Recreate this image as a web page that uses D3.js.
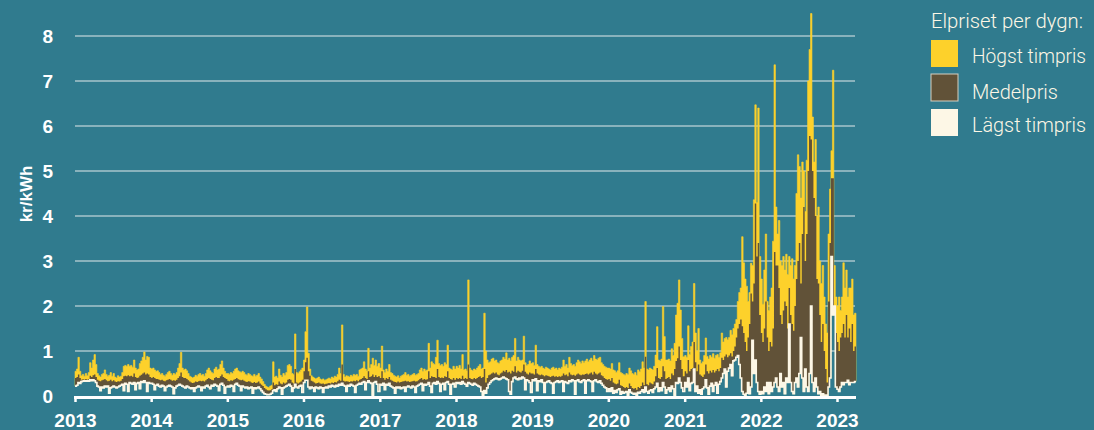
<!DOCTYPE html>
<html>
<head>
<meta charset="utf-8">
<script src="https://cdn.jsdelivr.net/npm/d3@7"></script>
<style>
  html, body { margin: 0; padding: 0; background: #307b8e; }
  svg { display: block; }
</style>
</head>
<body>
<div id="chart"></div>
<script>
const [teal, yellow, brown, cream, gridColor] =
      ["#307b8e", "#fdd12b", "#615238", "#fdf7e6", "#a7c4cb"];

const startYear = 2013
const weeksPerYear = 52

// Högst timpris, one value per week (kr/kWh)
const hogst = [
  0.55,0.60,0.86,0.55,0.45,0.48,0.44,0.50,0.45,0.52,0.74,0.62,0.80,0.92,0.70,0.50,0.45,0.42,0.48,0.50,0.58,0.48,0.44,0.46,0.52,0.44,0.50,0.42,0.40,0.45,0.42,0.44,0.52,0.66,0.68,0.66,0.70,0.66,0.68,0.64,0.80,0.62,0.58,0.60,0.72,0.78,0.86,0.98,0.80,0.88,0.86,0.62, // 2013
  0.60,0.62,0.58,0.55,0.56,0.52,0.48,0.50,0.46,0.44,0.48,0.52,0.55,0.50,0.46,0.50,0.48,0.52,0.62,0.72,0.97,0.62,0.58,0.60,0.56,0.50,0.44,0.42,0.40,0.42,0.46,0.44,0.48,0.50,0.46,0.48,0.44,0.50,0.58,0.62,0.56,0.52,0.50,0.60,0.64,0.58,0.60,0.70,0.78,0.62,0.55,0.50, // 2014
  0.50,0.48,0.52,0.50,0.55,0.60,0.62,0.56,0.54,0.52,0.55,0.52,0.48,0.46,0.50,0.48,0.45,0.44,0.48,0.44,0.46,0.50,0.42,0.38,0.32,0.26,0.22,0.20,0.19,0.22,0.24,0.76,0.42,0.44,0.40,0.60,0.46,0.42,0.50,0.46,0.52,0.68,0.70,0.66,0.50,0.48,1.38,0.52,0.50,0.54,0.58,0.62, // 2015
  0.80,1.43,1.98,0.95,0.60,0.45,0.42,0.40,0.38,0.40,0.42,0.38,0.36,0.38,0.35,0.36,0.38,0.40,0.38,0.42,0.40,0.44,0.42,0.48,0.62,0.50,1.58,0.48,0.42,0.45,0.44,0.42,0.46,0.44,0.48,0.46,0.48,0.44,0.58,0.60,0.62,0.76,0.60,0.56,1.06,0.62,0.70,0.84,0.68,0.80,0.66,0.72, // 2016
  0.62,1.11,0.58,0.52,0.60,0.55,0.70,0.52,0.50,0.46,0.44,0.42,0.45,0.40,0.44,0.46,0.48,0.52,0.46,0.48,0.44,0.46,0.48,0.50,0.46,0.48,0.50,0.58,0.62,0.55,0.60,0.56,0.58,1.17,0.62,0.76,0.72,0.70,0.86,1.24,0.72,0.68,0.70,0.66,0.74,0.70,1.13,0.62,0.60,0.58,0.66,0.60, // 2017
  0.66,0.62,0.68,0.60,0.92,0.58,0.60,0.56,2.58,0.62,0.58,0.56,0.60,0.58,0.62,0.66,0.70,0.60,0.62,1.84,1.00,0.80,0.74,0.76,0.82,0.84,0.78,0.80,0.74,0.72,0.78,0.80,0.86,0.82,0.96,0.80,0.84,0.78,0.86,0.90,1.28,0.78,0.86,0.80,0.78,0.80,1.33,0.74,0.68,0.70,0.78,0.72, // 2018
  0.74,0.68,1.13,0.70,0.66,0.64,0.66,0.62,0.60,0.64,0.62,0.60,0.58,0.62,0.64,0.60,0.62,0.58,0.62,0.60,0.64,0.80,0.66,0.70,0.62,0.86,0.72,0.68,0.70,0.66,0.74,0.80,0.76,0.72,0.78,0.74,0.78,0.82,0.76,0.80,0.84,0.78,0.90,0.82,0.80,0.84,0.86,0.74,0.70,0.66,0.64,0.62, // 2019
  0.62,0.60,0.72,0.58,0.56,0.52,0.56,0.74,0.52,0.50,0.48,0.46,0.50,0.48,0.62,0.56,0.50,0.48,0.52,0.46,0.58,0.54,0.60,0.76,0.62,2.10,0.60,0.58,0.62,0.60,0.58,0.66,0.91,1.54,0.80,0.78,0.82,1.99,1.32,0.80,0.80,0.82,0.78,1.05,0.90,1.17,1.80,2.06,2.58,1.91,1.28,0.87, // 2020
  0.90,0.86,1.56,0.92,1.10,1.20,2.50,1.40,1.00,1.50,0.80,0.72,0.76,0.90,1.29,0.88,0.82,0.90,0.86,0.94,0.84,0.90,0.92,0.86,0.96,1.40,1.20,1.28,1.30,1.25,1.30,1.46,1.36,1.50,1.60,1.70,2.10,2.30,2.40,3.54,2.96,2.60,2.44,2.10,2.30,2.95,2.90,4.36,6.47,4.30,6.40,3.10, // 2021
  2.60,2.04,2.80,3.60,2.10,1.90,2.20,2.40,3.44,7.36,4.20,3.60,3.90,3.00,2.90,3.10,2.80,3.15,2.70,3.10,2.90,3.05,2.60,2.90,4.50,5.36,5.10,4.40,5.20,5.00,4.10,5.24,7.00,7.70,8.50,6.20,5.20,5.70,4.00,4.20,3.00,2.50,2.90,2.20,1.60,1.40,3.60,4.60,5.45,7.24,2.90,2.20, // 2022
  2.00,2.20,1.90,2.20,2.96,2.40,2.80,2.20,2.40,2.40,2.60,1.80,1.84 // 2023
]

// Medelpris
const medel = [
  0.40,0.42,0.48,0.40,0.36,0.37,0.36,0.38,0.36,0.38,0.45,0.42,0.46,0.48,0.42,0.36,0.34,0.33,0.35,0.36,0.38,0.35,0.33,0.34,0.36,0.33,0.35,0.32,0.31,0.33,0.32,0.34,0.38,0.44,0.45,0.44,0.46,0.44,0.45,0.43,0.50,0.42,0.40,0.41,0.45,0.47,0.50,0.52,0.48,0.50,0.48,0.42, // 2013
  0.40,0.42,0.40,0.38,0.38,0.36,0.35,0.36,0.34,0.33,0.35,0.36,0.38,0.36,0.34,0.35,0.34,0.36,0.40,0.44,0.52,0.42,0.40,0.40,0.38,0.35,0.32,0.30,0.29,0.30,0.32,0.31,0.33,0.34,0.33,0.34,0.32,0.35,0.38,0.40,0.38,0.36,0.35,0.40,0.42,0.40,0.40,0.44,0.48,0.42,0.40,0.38, // 2014
  0.34,0.33,0.35,0.34,0.36,0.38,0.40,0.37,0.36,0.35,0.36,0.34,0.32,0.31,0.33,0.32,0.30,0.29,0.31,0.29,0.30,0.32,0.28,0.25,0.22,0.18,0.15,0.13,0.12,0.13,0.15,0.30,0.24,0.26,0.25,0.32,0.28,0.26,0.30,0.28,0.30,0.36,0.38,0.36,0.30,0.28,0.60,0.30,0.28,0.30,0.32,0.36, // 2015
  0.55,0.75,0.85,0.55,0.45,0.34,0.32,0.30,0.28,0.29,0.30,0.28,0.27,0.28,0.26,0.27,0.28,0.29,0.28,0.30,0.29,0.31,0.30,0.33,0.36,0.34,0.70,0.34,0.32,0.33,0.32,0.31,0.33,0.32,0.34,0.33,0.35,0.33,0.36,0.38,0.40,0.44,0.40,0.38,0.55,0.42,0.44,0.48,0.42,0.46,0.42,0.44, // 2016
  0.40,0.55,0.40,0.36,0.40,0.38,0.42,0.36,0.34,0.32,0.31,0.30,0.32,0.30,0.31,0.32,0.33,0.34,0.32,0.33,0.31,0.32,0.33,0.34,0.32,0.33,0.35,0.38,0.40,0.36,0.38,0.36,0.37,0.55,0.40,0.44,0.42,0.42,0.40,0.60,0.42,0.40,0.41,0.40,0.44,0.42,0.55,0.40,0.38,0.36,0.40,0.36, // 2017
  0.40,0.38,0.40,0.38,0.45,0.38,0.40,0.38,0.70,0.40,0.38,0.37,0.40,0.38,0.40,0.42,0.44,0.40,0.42,0.60,0.30,0.40,0.46,0.48,0.50,0.52,0.50,0.52,0.48,0.46,0.50,0.52,0.56,0.54,0.58,0.52,0.54,0.50,0.56,0.54,0.66,0.52,0.56,0.54,0.52,0.56,0.70,0.54,0.50,0.48,0.52,0.50, // 2018
  0.50,0.48,0.60,0.50,0.48,0.46,0.48,0.46,0.44,0.46,0.45,0.44,0.42,0.44,0.45,0.43,0.44,0.42,0.44,0.43,0.45,0.50,0.46,0.48,0.44,0.52,0.48,0.46,0.47,0.45,0.48,0.50,0.48,0.46,0.48,0.47,0.49,0.50,0.48,0.50,0.52,0.48,0.54,0.50,0.48,0.50,0.52,0.46,0.44,0.40,0.38,0.36, // 2019
  0.38,0.34,0.40,0.30,0.28,0.26,0.28,0.36,0.24,0.22,0.20,0.18,0.20,0.18,0.28,0.22,0.18,0.16,0.18,0.14,0.20,0.18,0.22,0.30,0.24,0.87,0.26,0.24,0.30,0.28,0.26,0.32,0.44,0.62,0.40,0.38,0.42,0.66,0.55,0.38,0.40,0.42,0.38,0.50,0.46,0.60,0.78,0.84,1.10,0.80,0.60,0.44, // 2020
  0.55,0.50,0.80,0.55,0.60,0.62,1.20,0.75,0.55,0.70,0.48,0.45,0.42,0.48,0.70,0.55,0.50,0.56,0.52,0.58,0.52,0.56,0.60,0.55,0.62,0.85,0.80,0.88,0.92,0.86,0.90,0.95,0.88,1.00,1.10,1.30,1.50,1.60,1.70,1.55,1.40,1.20,1.00,1.30,1.60,2.28,2.10,2.50,4.28,3.10,3.40,1.80, // 2021
  1.40,1.20,1.50,2.10,1.30,1.00,1.20,1.10,1.50,3.20,2.90,2.90,2.40,1.80,1.60,1.90,2.10,2.00,1.50,2.40,1.80,1.60,1.45,2.00,2.60,3.00,3.40,2.50,3.60,4.20,3.00,3.60,5.00,5.78,5.70,5.00,4.40,4.00,2.60,2.50,1.80,1.20,1.60,1.00,0.60,0.30,2.10,3.40,4.84,4.84,1.80,1.40, // 2022
  1.20,1.00,1.30,1.40,1.60,1.30,1.80,1.30,1.50,1.20,1.60,1.00,1.10 // 2023
]

// Lägst timpris
const lagst = [
  0.22,0.24,0.30,0.28,0.32,0.33,0.34,0.33,0.34,0.33,0.36,0.34,0.36,0.34,0.30,0.22,0.20,0.12,0.20,0.18,0.22,0.20,0.22,0.06,0.18,0.20,0.22,0.20,0.18,0.20,0.22,0.24,0.26,0.12,0.28,0.26,0.10,0.30,0.28,0.26,0.30,0.14,0.28,0.30,0.16,0.32,0.30,0.34,0.30,0.10,0.30,0.28, // 2013
  0.28,0.26,0.14,0.24,0.26,0.22,0.20,0.24,0.22,0.12,0.20,0.22,0.24,0.22,0.20,0.05,0.18,0.22,0.24,0.26,0.24,0.22,0.20,0.18,0.22,0.20,0.18,0.16,0.18,0.10,0.18,0.20,0.22,0.20,0.12,0.20,0.18,0.22,0.24,0.20,0.16,0.24,0.22,0.26,0.24,0.22,0.12,0.26,0.28,0.24,0.06,0.20, // 2014
  0.22,0.20,0.24,0.22,0.10,0.26,0.28,0.24,0.22,0.12,0.22,0.20,0.18,0.20,0.16,0.18,0.20,0.06,0.18,0.16,0.18,0.20,0.16,0.12,0.08,0.05,0.04,0.03,0.03,0.04,0.06,0.12,0.14,0.10,0.16,0.20,0.18,0.04,0.18,0.20,0.22,0.24,0.26,0.22,0.10,0.18,0.26,0.20,0.18,0.22,0.24,0.08, // 2015
  0.30,0.35,0.35,0.20,0.16,0.20,0.18,0.10,0.20,0.18,0.16,0.20,0.18,0.08,0.18,0.20,0.18,0.22,0.20,0.24,0.22,0.20,0.24,0.22,0.26,0.24,0.28,0.24,0.22,0.10,0.24,0.22,0.26,0.24,0.22,0.08,0.24,0.26,0.28,0.26,0.30,0.32,0.14,0.30,0.34,0.30,0.28,0.02,0.30,0.32,0.26,0.10, // 2016
  0.26,0.24,0.28,0.14,0.26,0.24,0.28,0.22,0.20,0.18,0.06,0.20,0.18,0.20,0.16,0.18,0.20,0.10,0.20,0.22,0.20,0.18,0.22,0.20,0.08,0.22,0.24,0.26,0.28,0.12,0.26,0.24,0.26,0.30,0.22,0.08,0.28,0.30,0.26,0.32,0.28,0.10,0.26,0.28,0.14,0.30,0.32,0.26,0.04,0.26,0.28,0.20, // 2017
  0.30,0.28,0.30,0.26,0.32,0.28,0.26,0.22,0.30,0.28,0.26,0.24,0.28,0.26,0.24,0.22,0.20,0.10,0.02,0.12,0.06,0.18,0.26,0.30,0.34,0.36,0.38,0.40,0.38,0.36,0.38,0.40,0.42,0.40,0.38,0.36,0.10,0.04,0.32,0.40,0.42,0.38,0.36,0.40,0.38,0.42,0.40,0.14,0.36,0.34,0.30,0.08, // 2018
  0.36,0.34,0.38,0.12,0.34,0.32,0.36,0.30,0.08,0.30,0.32,0.34,0.30,0.28,0.06,0.30,0.32,0.34,0.30,0.32,0.34,0.10,0.32,0.30,0.28,0.34,0.32,0.36,0.34,0.04,0.34,0.36,0.32,0.30,0.34,0.36,0.06,0.34,0.36,0.34,0.32,0.10,0.34,0.36,0.32,0.30,0.34,0.28,0.24,0.20,0.18,0.10, // 2019
  0.16,0.10,0.18,0.06,0.12,0.08,0.14,0.16,0.04,0.10,0.06,0.08,0.10,0.02,0.14,0.08,0.06,0.04,0.06,0.02,0.08,0.06,0.10,0.14,0.08,0.20,0.10,0.06,0.12,0.14,0.08,0.16,0.20,0.28,0.10,0.18,0.12,0.30,0.20,0.06,0.14,0.18,0.10,0.22,0.16,0.02,0.30,0.28,0.40,0.30,0.18,0.10, // 2020
  0.30,0.20,0.40,0.12,0.28,0.30,0.60,0.10,0.22,0.06,0.14,0.04,0.16,0.20,0.36,0.18,0.04,0.22,0.28,0.10,0.24,0.30,0.06,0.26,0.32,0.40,0.50,0.60,0.20,0.55,0.62,0.70,0.45,0.78,0.80,0.86,0.90,0.70,0.40,0.10,0.04,0.02,0.06,0.30,0.05,0.20,1.24,0.50,0.80,0.30,0.10,0.04, // 2021
  0.10,0.05,0.20,0.10,0.30,0.05,0.30,0.10,0.20,0.30,0.40,0.20,0.10,0.50,0.20,0.30,0.05,0.40,0.30,1.60,0.30,0.10,0.05,0.30,0.40,0.20,0.50,1.30,0.40,0.10,0.60,0.20,0.10,0.50,2.00,0.30,0.10,0.40,0.20,0.05,0.10,0.02,0.05,0.02,0.02,0.00,0.20,0.40,3.10,1.80,2.00,0.20, // 2022
  0.15,0.10,0.20,0.30,0.25,0.30,0.30,0.35,0.25,0.30,0.30,0.30,0.32 // 2023
]

const yearTicks = [2013, 2014, 2015, 2016, 2017, 2018, 2019, 2020, 2021, 2022, 2023]
const yTicks = [0, 1, 2, 3, 4, 5, 6, 7, 8]
const yTitle = "kr/kWh"
const legendTitle = "Elpriset per dygn:"
const legendLabels = ["Högst timpris", "Medelpris", "Lägst timpris"]
const legendColors = [yellow, brown, cream]

const weekDate = i =>
      new Date(startYear + Math.floor(i / weeksPerYear), 0, 1 + 7 * (i % weeksPerYear))

const rows = hogst.map((h, i) => ({date: weekDate(i), hi: h, mid: medel[i], lo: lagst[i]}))
// close the last step
const last = rows[rows.length - 1]
rows.push({...last, date: d3.timeDay.offset(last.date, 7)})

const width = 1094, height = 430

const x = d3.scaleTime()
      .domain([new Date(2013, 0, 1), new Date(2023, 0, 1)])
      .range([75, 837])
const y = d3.scaleLinear().domain([0, 8]).range([396, 36])

const svg = d3.select("#chart").append("svg")
      .attr("width", width)
      .attr("height", height)

svg.append("rect").attr("width", width).attr("height", height).attr("fill", teal)

// gridlines
svg.append("g").selectAll("line")
  .data(yTicks.filter(t => t > 0))
  .join("line")
  .attr("x1", 75).attr("x2", 855)
  .attr("y1", d => y(d)).attr("y2", d => y(d))
  .attr("stroke", gridColor)
  .attr("stroke-width", 1.5)

const band = key => d3.area()
      .curve(d3.curveStepAfter)
      .x(d => x(d.date))
      .y0(d => y(d.lo))
      .y1(d => y(d[key]))

svg.append("path").datum(rows)
  .attr("d", band("hi"))
  .attr("fill", yellow)
  .attr("stroke", yellow)
  .attr("stroke-width", 0.6)

svg.append("path").datum(rows)
  .attr("d", band("mid"))
  .attr("fill", brown)

svg.append("path").datum(rows)
  .attr("d", d3.line().curve(d3.curveStepAfter).x(d => x(d.date)).y(d => y(d.lo)))
  .attr("fill", "none")
  .attr("stroke", cream)
  .attr("stroke-width", 1.6)

// x axis
svg.append("line")
  .attr("x1", 74).attr("x2", 856)
  .attr("y1", 397.5).attr("y2", 397.5)
  .attr("stroke", "#ffffff")
  .attr("stroke-width", 3)

const xAxis = svg.append("g")
  .attr("transform", "translate(0,397)")
  .call(d3.axisBottom(x)
        .tickValues(yearTicks.map(yr => new Date(yr, 0, 1)))
        .tickFormat(d3.timeFormat("%Y"))
        .tickSize(5)
        .tickPadding(12))
xAxis.select(".domain").remove()
xAxis.selectAll(".tick line").attr("stroke", "#ffffff").attr("stroke-width", 2.5)
xAxis.selectAll(".tick text")
  .attr("fill", "#ffffff")
  .attr("font-family", "'Liberation Sans', Arial, sans-serif")
  .attr("font-weight", "bold")
  .attr("font-size", "19px")

// y axis labels
const yAxis = svg.append("g")
  .attr("transform", "translate(75,0)")
  .call(d3.axisLeft(y).tickValues(yTicks).tickSize(0).tickPadding(22))
yAxis.select(".domain").remove()
yAxis.selectAll(".tick text")
  .attr("fill", "#ffffff")
  .attr("font-family", "'Liberation Sans', Arial, sans-serif")
  .attr("font-weight", "bold")
  .attr("font-size", "19px")

svg.append("text")
  .attr("transform", "translate(26,194) rotate(-90)")
  .attr("text-anchor", "middle")
  .attr("dominant-baseline", "central")
  .attr("fill", "#ffffff")
  .attr("font-family", "'Liberation Sans', Arial, sans-serif")
  .attr("font-weight", "bold")
  .attr("font-size", "17px")
  .text(yTitle)

// legend
const legend = svg.append("g")
const legendFont = "Roboto, 'Liberation Sans', sans-serif"

legend.append("text")
  .attr("x", 931).attr("y", 28)
  .attr("fill", cream)
  .attr("font-family", legendFont)
  .attr("font-weight", 300)
  .attr("font-size", "20px")
  .attr("textLength", 152)
  .attr("lengthAdjust", "spacingAndGlyphs")
  .text(legendTitle)

const legendTops = [40, 74, 109]
const legendBase = [63, 99, 132]
const legendLen = [114, 86, 114]

legend.selectAll("rect")
  .data(legendLabels)
  .join("rect")
  .attr("x", 931)
  .attr("y", (d, i) => legendTops[i])
  .attr("width", 27)
  .attr("height", 27)
  .attr("fill", (d, i) => legendColors[i])
  .attr("stroke", (d, i) => i == 1 ? "#d6d0bf" : "none")
  .attr("stroke-width", 1)

legend.selectAll(".lbl")
  .data(legendLabels)
  .join("text")
  .attr("class", "lbl")
  .attr("x", 972)
  .attr("y", (d, i) => legendBase[i])
  .attr("fill", cream)
  .attr("font-family", legendFont)
  .attr("font-weight", 300)
  .attr("font-size", "20px")
  .attr("textLength", (d, i) => legendLen[i])
  .attr("lengthAdjust", "spacingAndGlyphs")
  .text(d => d)
</script>
</body>
</html>
